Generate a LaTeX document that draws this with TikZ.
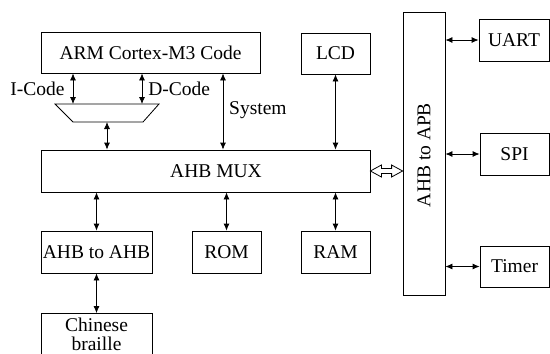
\documentclass[tikz,border=0pt]{standalone}
\usepackage{fontspec}
\setmainfont{Liberation Serif}
\usetikzlibrary{arrows.meta,calc}

\begin{document}
\begin{tikzpicture}[x=1pt, y=-1pt,
    blk/.style={draw, line width=0.8pt, inner sep=0pt, font=\fontsize{19.5}{19}\selectfont},
    bus/.style={line width=0.8pt, {Latex[length=7pt,width=6pt]}-{Latex[length=7pt,width=6pt]}},
    lbl/.style={inner sep=0pt, font=\fontsize{19.5}{19}\selectfont}]
    \useasboundingbox (0,0) rectangle (550,354);

    % Blocks
    \node[blk, minimum width=219pt, minimum height=41pt] (arm) at (150.5,52.5) {ARM Cortex-M3 Code};
    \node[blk, minimum width=69pt, minimum height=41pt] (lcd) at (335.5,53.5) {LCD};
    \node[blk, minimum width=329pt, minimum height=42pt] (mux) at (205.5,171) {};
    \node[lbl] (muxtext) at (216,171) {AHB MUX};
    \node[blk, minimum width=42pt, minimum height=283pt] (apb) at (424,153.5) {};
    \node[lbl, rotate=90] (apbtext) at (424,155) {AHB to APB};
    \node[blk, minimum width=70pt, minimum height=42pt] (uart) at (514,40) {UART};
    \node[blk, minimum width=69pt, minimum height=42pt] (spi) at (514.5,154) {SPI};
    \node[blk, minimum width=69pt, minimum height=41pt] (timer) at (514.5,266.5) {Timer};
    \node[blk, minimum width=111pt, minimum height=42pt] (ahb) at (96.5,252) {AHB to AHB};
    \node[blk, minimum width=69pt, minimum height=42pt] (rom) at (226.5,252) {ROM};
    \node[blk, minimum width=69pt, minimum height=42pt] (ram) at (335.5,252) {RAM};
    \node[blk, minimum width=111pt, minimum height=41pt, align=center] (braille) at (96.5,334) {Chinese\\braille};

    % Bus matrix (trapezoid)
    \coordinate (mtl) at (55,104);
    \coordinate (mtr) at (159,104);
    \coordinate (mbr) at (143,122);
    \coordinate (mbl) at (73,122);
    \draw[line width=0.8pt] (mtl) -- (mtr) -- (mbr) -- (mbl) -- cycle;
    \coordinate (icode) at (73,104);
    \coordinate (dcode) at (142,104);
    \coordinate (mout) at (107,122);
    \coordinate (sys) at (223,110);

    % Core buses
    \draw[bus] (icode |- arm.south) -- (icode) node[lbl, midway, left=8pt] {I-Code};
    \draw[bus] (dcode |- arm.south) -- (dcode) node[lbl, midway, right=6pt] {D-Code};
    \draw[bus] (mout) -- (mout |- mux.north);
    \draw[bus] (sys |- arm.south) -- (sys |- mux.north);
    \node[lbl, right=6pt] (systext) at (sys) {System};
    \draw[bus] (lcd.south) -- (lcd.south |- mux.north);

    % Slaves below the MUX
    \draw[bus] (mux.south -| ahb) -- (ahb.north);
    \draw[bus] (mux.south -| rom) -- (rom.north);
    \draw[bus] (mux.south -| ram) -- (ram.north);
    \draw[bus] (ahb.south) -- (braille.north);

    % APB peripherals
    \draw[bus] (apb.east |- uart) -- (uart.west);
    \draw[bus] (apb.east |- spi) -- (spi.west);
    \draw[bus] (apb.east |- timer) -- (timer.west);

    % Bridge link (hollow double arrow)
    \coordinate (bl) at (mux.east);
    \coordinate (br) at (apb.west |- mux.east);
    \draw[line width=0.8pt, fill=white] (bl)
        -- ($(bl)+(11,-6)$) -- ($(bl)+(11,-2.5)$) -- ($(br)+(-11,-2.5)$) -- ($(br)+(-11,-6)$)
        -- (br)
        -- ($(br)+(-11,6)$) -- ($(br)+(-11,2.5)$) -- ($(bl)+(11,2.5)$) -- ($(bl)+(11,6)$) -- cycle;
\end{tikzpicture}
\end{document}
